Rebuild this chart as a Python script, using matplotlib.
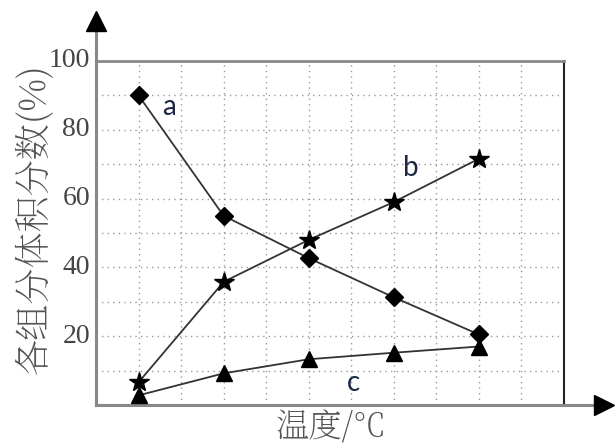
import matplotlib
matplotlib.use('Agg')
import matplotlib.pyplot as plt
from matplotlib import font_manager as fm

plt.rcParams['font.family'] = ['Noto Sans CJK SC', 'DejaVu Sans']

# 温度 positions (no tick labels in the original)
temp = [1, 3, 5, 7, 9]
a_val = [90, 55, 42.7, 31.3, 20.5]
b_val = [6.6, 35.8, 48, 59, 71.6]
c_val = [2.8, 9.2, 13.3, 15.2, 17]

y_ticks = [20, 40, 60, 80, 100]
x_grid = list(range(1, 11))
y_grid = list(range(10, 100, 10))

# 衬线中文字体, 没有就用黑体
have = set(f.name for f in fm.fontManager.ttflist)
cjk = [f for f in ['Noto Serif SC', 'Noto Serif CJK SC', 'Noto Sans CJK SC'] if f in have]
cjk_family = cjk[:1] + ['Noto Sans CJK SC', 'DejaVu Sans']

fig = plt.figure(figsize=(6.16, 4.48), dpi=100)
ax = fig.add_axes([96/616, 43/448, 468/616, 344/448])
ax.set_xlim(0, 11)
ax.set_ylim(0, 100)

# 点线网格
for gx in x_grid:
    ax.axvline(gx, color='#999999', lw=1, ls=(0, (1, 3)), zorder=1)
for gy in y_grid:
    ax.axhline(gy, color='#999999', lw=1, ls=(0, (1, 3)), zorder=1)

line_kw = dict(color='#333333', lw=1.3, markeredgecolor='black', markerfacecolor='black', zorder=3)
ax.plot(temp, a_val, marker='D', ms=9, **line_kw)
ax.plot(temp, b_val, marker='*', ms=15, **line_kw)
ax.plot(temp, c_val, marker='^', ms=12, **line_kw)

lab_kw = dict(fontsize=20, color='#1c2744', family=['Lato', 'DejaVu Sans'], ha='center', va='center')
ax.text(1.72, 86.5, 'a', **lab_kw)
ax.text(7.4, 69, 'b', **lab_kw)
ax.text(6.05, 6.5, 'c', **lab_kw)

ax.set_xticks([])
ax.set_yticks([])
# y 轴刻度文字 (衬线体)
for v in y_ticks:
    ax.text(-0.013, v, str(v), transform=ax.get_yaxis_transform(), ha='right', va='center',
            fontsize=20, color='#444444', family=['Liberation Serif', 'DejaVu Serif'])

for side in ['left', 'bottom']:
    ax.spines[side].set_color('#888888')
    ax.spines[side].set_linewidth(2.2)
ax.spines['top'].set_color('#888888')
ax.spines['top'].set_linewidth(2)
ax.spines['right'].set_color('#222222')
ax.spines['right'].set_linewidth(1.5)

# 坐标轴箭头
ax.plot([0, 0], [1, 1.10], transform=ax.transAxes, clip_on=False, color='#888888', lw=2.2)
ax.plot(0, 1.115, marker='^', ms=14, color='black', transform=ax.transAxes, clip_on=False)
ax.plot([1, 1.07], [0, 0], transform=ax.transAxes, clip_on=False, color='#888888', lw=2.2)
ax.plot(1.085, 0, marker='>', ms=14, color='black', transform=ax.transAxes, clip_on=False)

fig.text(35/616, 1 - 219/448, '各组分体积分数(%)', rotation=90, ha='center', va='center',
         fontsize=26, color='#555555', family=cjk_family)
fig.text(331/616, 1 - 428/448, '温度/℃', ha='center', va='center', fontsize=24, color='#555555',
         family=cjk_family)

fig.savefig('out.png', dpi=100)
